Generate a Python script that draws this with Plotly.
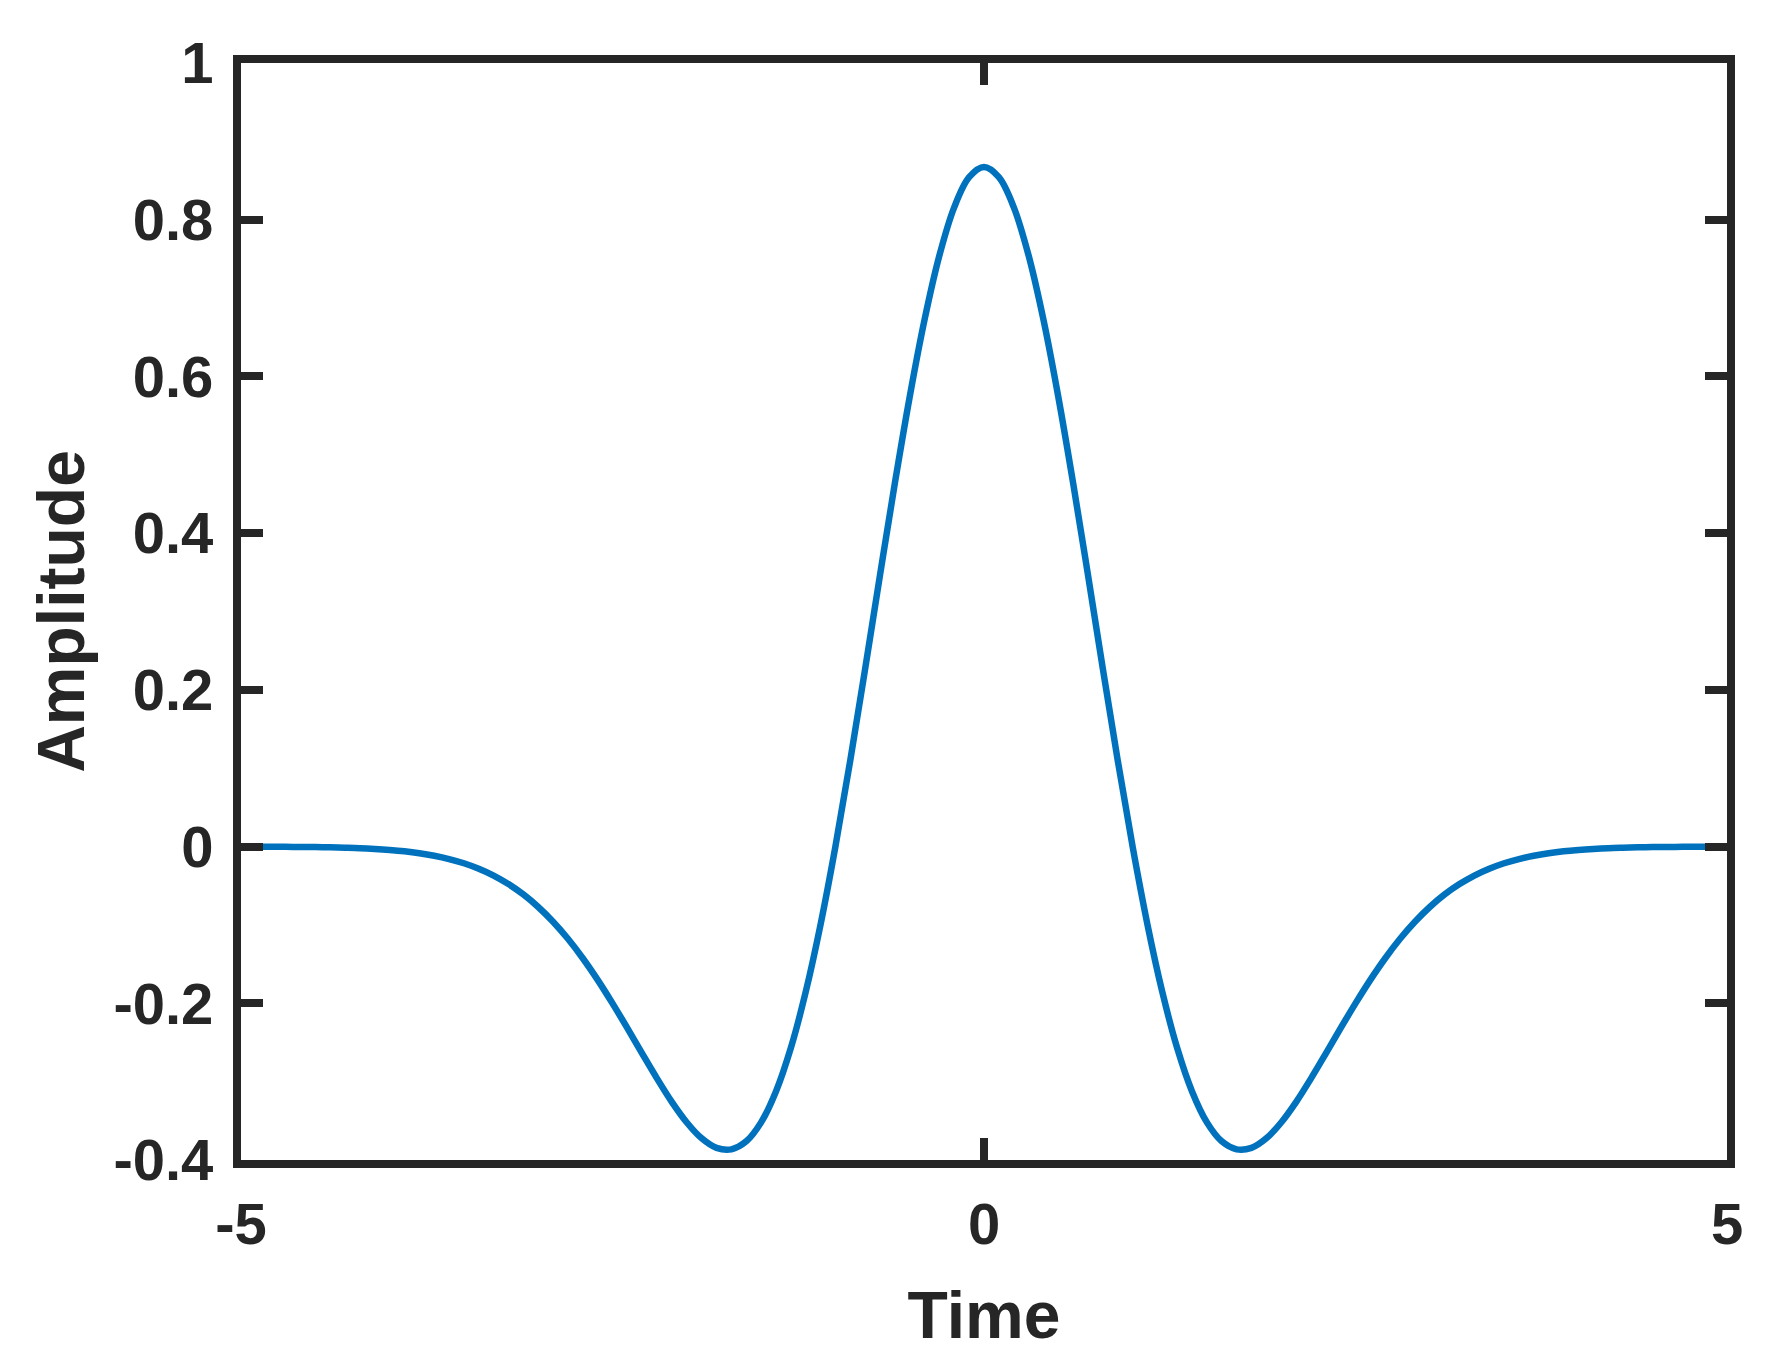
import plotly.graph_objects as go

time = [round(-5.0 + 0.1 * i, 1) for i in range(101)]
amplitude = [
    -0.0001, -0.0001, -0.0002, -0.0003, -0.0005, -0.0007, -0.0010, -0.0015, -0.0021, -0.0031,
    -0.0044, -0.0061, -0.0085, -0.0117, -0.0159, -0.0213, -0.0283, -0.0370, -0.0479, -0.0611,
    -0.0771, -0.0959, -0.1177, -0.1425, -0.1701, -0.2001, -0.2317, -0.2642, -0.2961, -0.3261,
    -0.3521, -0.3723, -0.3845, -0.3864, -0.3762, -0.3520, -0.3125, -0.2571, -0.1857, -0.0995,
    0.0, 0.1099, 0.2267, 0.3462, 0.4636, 0.5740, 0.6725, 0.7545, 0.8161, 0.8543,
    0.8673,
    0.8543, 0.8161, 0.7545, 0.6725, 0.5740, 0.4636, 0.3462, 0.2267, 0.1099, 0.0,
    -0.0995, -0.1857, -0.2571, -0.3125, -0.3520, -0.3762, -0.3864, -0.3845, -0.3723, -0.3521,
    -0.3261, -0.2961, -0.2642, -0.2317, -0.2001, -0.1701, -0.1425, -0.1177, -0.0959, -0.0771,
    -0.0611, -0.0479, -0.0370, -0.0283, -0.0213, -0.0159, -0.0117, -0.0085, -0.0061, -0.0044,
    -0.0031, -0.0021, -0.0015, -0.0010, -0.0007, -0.0005, -0.0003, -0.0002, -0.0001, -0.0001,
]

x_ticks = [-5, 0, 5]
y_ticks = [-0.4, -0.2, 0, 0.2, 0.4, 0.6, 0.8, 1]
y_tick_labels = ["-0.4", "-0.2", "0", "0.2", "0.4", "0.6", "0.8", "1"]

ink = "#262626"
font_family = "Liberation Sans"

fig = go.Figure()
fig.add_trace(go.Scatter(
    x=time, y=amplitude, mode="lines",
    line=dict(color="#0072BD", width=6.5, shape="spline", smoothing=1.0),
    showlegend=False, hoverinfo="skip",
))

fig.update_layout(
    width=1775, height=1362,
    margin=dict(l=233, r=56, t=55, b=210, pad=0),
    paper_bgcolor="white", plot_bgcolor="white",
    font=dict(family=font_family, color=ink, size=58),
)

fig.update_xaxes(
    range=[-5, 5], tickvals=x_ticks, ticktext=[str(v) for v in x_ticks],
    showline=True, linecolor=ink, linewidth=8, mirror="ticks",
    ticks="inside", ticklen=22, tickwidth=8, tickcolor=ink,
    showgrid=False, zeroline=False,
    tickfont=dict(family=font_family, size=58, color=ink, weight="bold"),
    ticklabelstandoff=6,
    title=dict(text="<b>Time</b>", font=dict(family=font_family, size=66, color=ink), standoff=40),
)
fig.update_yaxes(
    range=[-0.4, 1], tickvals=y_ticks, ticktext=y_tick_labels,
    showline=True, linecolor=ink, linewidth=8, mirror="ticks",
    ticks="inside", ticklen=22, tickwidth=8, tickcolor=ink,
    showgrid=False, zeroline=False,
    tickfont=dict(family=font_family, size=58, color=ink, weight="bold"),
    ticklabelstandoff=8,
    title=dict(text="<b>Amplitude</b>", font=dict(family=font_family, size=66, color=ink), standoff=10),
)

fig.write_html("out.html")
